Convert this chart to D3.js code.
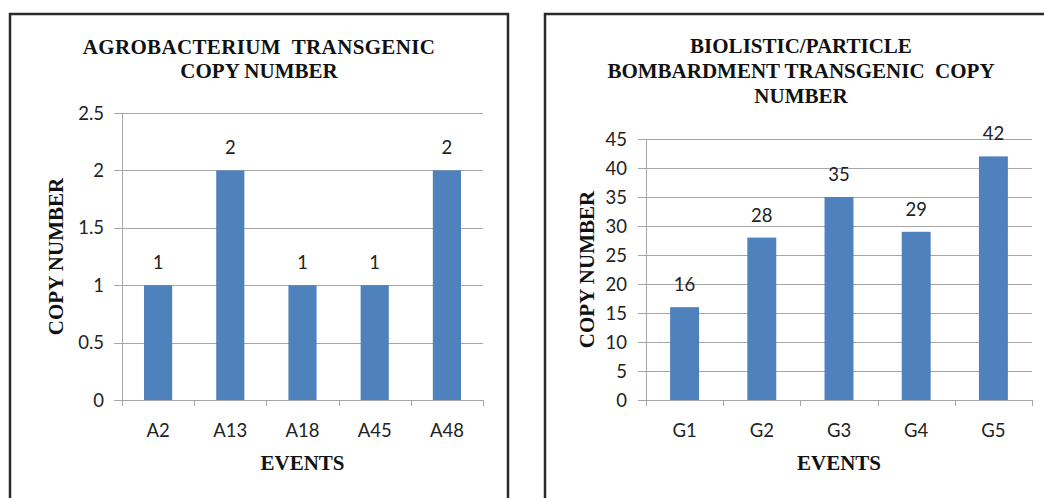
<!DOCTYPE html>
<html>
<head>
<meta charset="utf-8">
<script src="https://cdn.jsdelivr.net/npm/d3@7"></script>
<style>
  html, body { margin: 0; padding: 0; background: #fff; }
  svg { display: block; }
  .serif { font-family: "Liberation Serif", "Times New Roman", serif; font-weight: bold; fill: #111; }
  .sans { font-family: Lato, "Open Sans", sans-serif; fill: #222; }
</style>
</head>
<body>
<svg id="chart" width="1044" height="498"></svg>
<script>
// ---- data ----
const agroEvents = ["A2", "A13", "A18", "A45", "A48"];
const agroCopies = [1, 2, 1, 1, 2];
const agroTicks = [0, 0.5, 1, 1.5, 2, 2.5];
const agroTickLabels = ["0", "0.5", "1", "1.5", "2", "2.5"];
const agroTitle = ["AGROBACTERIUM  TRANSGENIC", "COPY NUMBER"];

const bioEvents = ["G1", "G2", "G3", "G4", "G5"];
const bioCopies = [16, 28, 35, 29, 42];
const bioTicks = [0, 5, 10, 15, 20, 25, 30, 35, 40, 45];
const bioTickLabels = ["0", "5", "10", "15", "20", "25", "30", "35", "40", "45"];
const bioTitle = ["BIOLISTIC/PARTICLE", "BOMBARDMENT TRANSGENIC  COPY", "NUMBER"];

const yAxisTitle = "COPY NUMBER";
const xAxisTitle = "EVENTS";

const svg = d3.select("#chart");

const panels = [
  { cats: agroEvents, vals: agroCopies, ticks: agroTicks, tickLabels: agroTickLabels, title: agroTitle,
    box: { x: 10, y: 14, w: 498, h: 500 },
    plot: { x0: 122, x1: 483, y0: 400, y1: 113 }, max: 2.5, pad: 0.61,
    titleX: 259, titleY0: 54, titleStep: 24, titleSpacing: [0.35, 0], yTitleX: 63, labelX: 104 },
  { cats: bioEvents, vals: bioCopies, ticks: bioTicks, tickLabels: bioTickLabels, title: bioTitle,
    box: { x: 545, y: 14, w: 520, h: 500 },
    plot: { x0: 646, x1: 1032, y0: 400, y1: 139 }, max: 45, pad: 0.625,
    titleX: 801, titleY0: 53, titleStep: 25, titleSpacing: [0, 0, 0], yTitleX: 594, labelX: 627 }
];

panels.forEach(p => {
  const g = svg.append("g");
  // frame
  g.append("rect")
    .attr("x", p.box.x).attr("y", p.box.y)
    .attr("width", p.box.w).attr("height", p.box.h)
    .attr("fill", "#fff").attr("stroke", "#2a2a2a").attr("stroke-width", 2.5);

  const x = d3.scaleBand().domain(p.cats).range([p.plot.x0, p.plot.x1])
    .paddingInner(p.pad).paddingOuter(p.pad / 2);
  const y = d3.scaleLinear().domain([0, p.max]).range([p.plot.y0, p.plot.y1]);

  // gridlines
  g.append("g").selectAll("line").data(p.ticks).join("line")
    .attr("x1", p.plot.x0 - 8).attr("x2", p.plot.x1)
    .attr("y1", d => Math.round(y(d)) + 0.5).attr("y2", d => Math.round(y(d)) + 0.5)
    .attr("stroke", "#a6a6a6").attr("stroke-width", 1);

  // y axis line
  g.append("line")
    .attr("x1", p.plot.x0 + 0.5).attr("x2", p.plot.x0 + 0.5)
    .attr("y1", y(p.max)).attr("y2", p.plot.y0)
    .attr("stroke", "#a6a6a6");

  // x axis ticks at band boundaries
  const bounds = p.cats.map(c => x(c) - x.step() * p.pad / 2).concat([p.plot.x1]);
  g.append("g").selectAll("line").data(bounds).join("line")
    .attr("x1", d => Math.round(d) + 0.5).attr("x2", d => Math.round(d) + 0.5)
    .attr("y1", p.plot.y0).attr("y2", p.plot.y0 + 6)
    .attr("stroke", "#a6a6a6");

  // y tick labels
  g.append("g").selectAll("text").data(p.ticks).join("text")
    .attr("class", "sans")
    .attr("x", p.labelX).attr("y", d => y(d))
    .attr("dy", "0.36em")
    .attr("text-anchor", "end").attr("font-size", 18.5)
    .text((d, i) => p.tickLabels[i]);

  // bars
  g.append("g").selectAll("rect").data(p.vals).join("rect")
    .attr("x", (d, i) => x(p.cats[i]))
    .attr("width", x.bandwidth())
    .attr("y", d => y(d))
    .attr("height", d => y(0) - y(d))
    .attr("fill", "#4f81bd");

  // data labels
  g.append("g").selectAll("text").data(p.vals).join("text")
    .attr("class", "sans")
    .attr("x", (d, i) => x(p.cats[i]) + x.bandwidth() / 2)
    .attr("y", d => y(d) - 16)
    .attr("text-anchor", "middle").attr("font-size", 18.5)
    .text(d => d);

  // x labels
  g.append("g").selectAll("text").data(p.cats).join("text")
    .attr("class", "sans")
    .attr("x", d => x(d) + x.bandwidth() / 2)
    .attr("y", 437)
    .attr("text-anchor", "middle").attr("font-size", 18.5)
    .text(d => d);

  // titles
  p.title.forEach((line, i) => {
    g.append("text").attr("class", "serif")
      .attr("x", p.titleX).attr("y", p.titleY0 + i * p.titleStep)
      .attr("text-anchor", "middle").attr("font-size", 21)
      .attr("xml:space", "preserve").style("white-space", "pre")
      .style("letter-spacing", p.titleSpacing[i] + "px")
      .text(line);
  });

  // axis titles
  g.append("text").attr("class", "serif")
    .attr("x", (p.plot.x0 + p.plot.x1) / 2).attr("y", 470)
    .attr("text-anchor", "middle").attr("font-size", 21)
    .text(xAxisTitle);

  const cy = (p.plot.y0 + y(p.max)) / 2;
  g.append("text").attr("class", "serif")
    .attr("transform", `translate(${p.yTitleX},${cy}) rotate(-90)`)
    .attr("text-anchor", "middle").attr("font-size", 21)
    .text(yAxisTitle);
});
</script>
</body>
</html>
